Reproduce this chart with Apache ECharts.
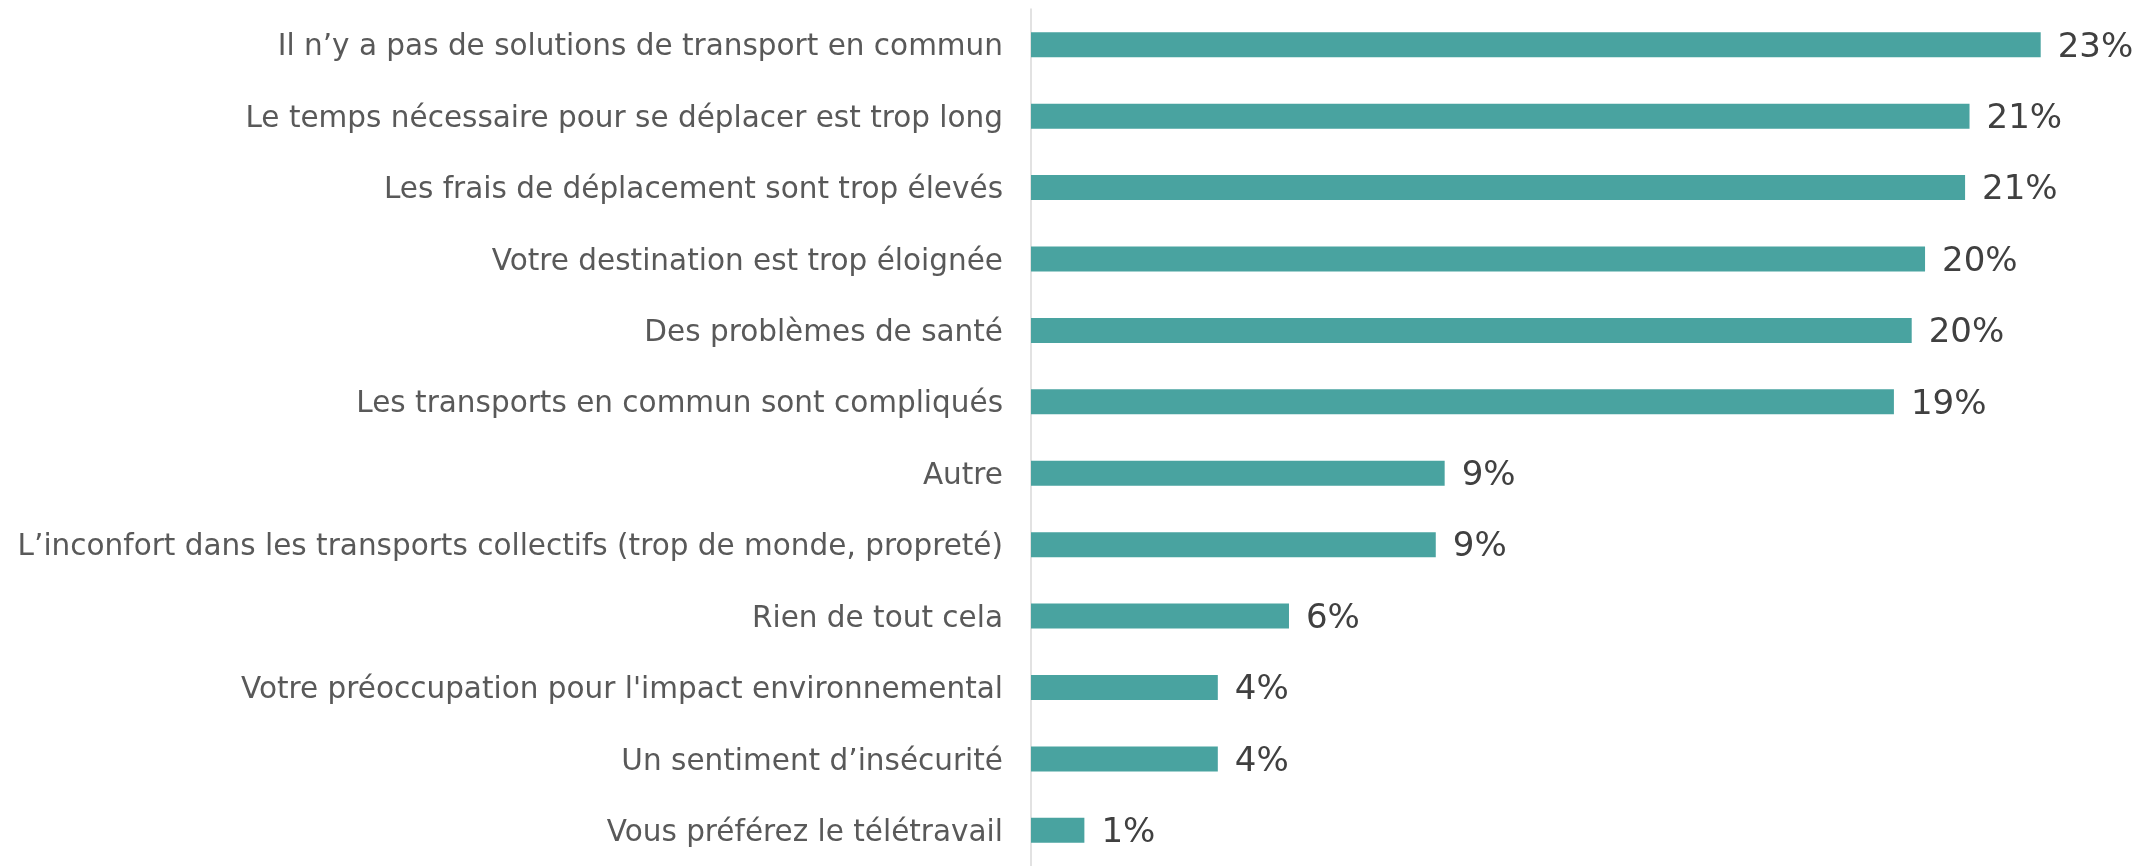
<!DOCTYPE html>
<html>
<head>
<meta charset="utf-8">
<script src="https://cdn.jsdelivr.net/npm/echarts@6/dist/echarts.min.js"></script>
<style>
  html, body { margin: 0; padding: 0; background: #fff; }
  #chart { width: 2150px; height: 866px; }
</style>
</head>
<body>
<div id="chart"></div>
<script>
// categories, top to bottom
const categories = [
  'Il n\u2019y a pas de solutions de transport en commun',
  'Le temps nécessaire pour se déplacer est trop long',
  'Les frais de déplacement sont trop élevés',
  'Votre destination est trop éloignée',
  'Des problèmes de santé',
  'Les transports en commun sont compliqués',
  'Autre',
  'L\u2019inconfort dans les transports collectifs (trop de monde, propreté)',
  'Rien de tout cela',
  'Votre préoccupation pour l\'impact environnemental',
  'Un sentiment d\u2019insécurité',
  'Vous préférez le télétravail'
]
// share of respondents (%)
const values = [22.7, 21.1, 21.0, 20.1, 19.8, 19.4, 9.3, 9.1, 5.8, 4.2, 4.2, 1.2]

const chart = echarts.init(document.getElementById('chart'))
const option = {
  animation: false,
  grid: {
    left: 1031,
    right: 7,
    top: 9,
    bottom: -7
  },
  xAxis: {
    type: 'value',
    min: 0,
    max: 25,
    show: false
  },
  yAxis: {
    type: 'category',
    inverse: true,
    data: categories,
    axisLine: { lineStyle: { color: '#D9D9D9', width: 1.5 } },
    axisTick: { show: false },
    axisLabel: {
      margin: 28,
      formatter: v => '{t|' + v + '}',
      rich: {
        t: {
          fontFamily: 'DejaVu Sans',
          fontSize: 29.5,
          color: '#595959',
          padding: [6, 0, 0, 0]
        }
      }
    }
  },
  series: [
    {
      type: 'bar',
      data: values,
      barWidth: 25,
      itemStyle: { color: '#49A3A0' },
      label: {
        show: true,
        position: 'right',
        distance: 17,
        offset: [0, 3],
        fontFamily: 'DejaVu Sans',
        fontSize: 34,
        color: '#404040',
        formatter: p => Math.round(p.value) + '%'
      }
    }
  ]
}
chart.setOption(option)
</script>
</body>
</html>
